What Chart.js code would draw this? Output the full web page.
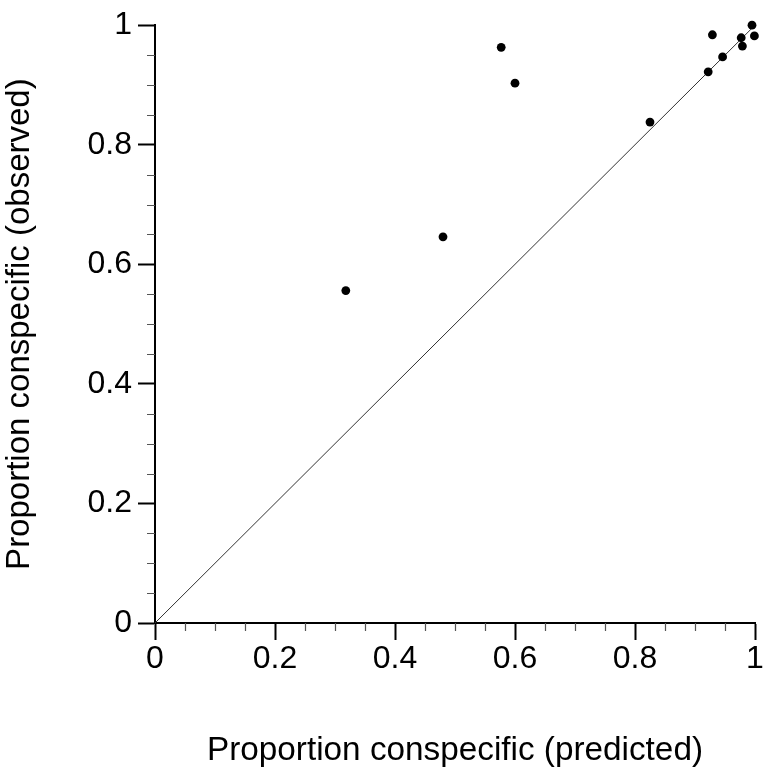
<!DOCTYPE html>
<html>
<head>
<meta charset="utf-8">
<script src="https://cdn.jsdelivr.net/npm/chart.js@4/dist/chart.umd.min.js"></script>
<style>
  html, body { margin: 0; padding: 0; background: #fff; }
  #wrap { width: 767px; height: 777px; }
</style>
</head>
<body>
<div id="wrap"><canvas id="grafico"></canvas></div>
<script>
// valores
const predicted = [0.318, 0.48, 0.577, 0.6, 0.825, 0.922, 0.929, 0.946, 0.977, 0.979, 0.995, 0.999];
const observed  = [0.556, 0.646, 0.963, 0.903, 0.838, 0.922, 0.984, 0.947, 0.979, 0.965, 1.0, 0.982];
const majorTicks = [0, 0.2, 0.4, 0.6, 0.8, 1];
const tickLabels = ['0', '0.2', '0.4', '0.6', '0.8', '1'];
const xTitle = 'Proportion conspecific (predicted)';
const yTitle = 'Proportion conspecific (observed)';

const FONT = '"Liberation Sans", Arial, Helvetica, sans-serif';

function isMajor(v) {
    return majorTicks.some(m => Math.abs(m - v) < 1e-6);
}
function labelFor(v) {
    const i = majorTicks.findIndex(m => Math.abs(m - v) < 1e-6);
    return i >= 0 ? tickLabels[i] : '';
}

// tracinhos menores (a cada 0.05)
const minorTicks = {
    id: 'minorTicks',
    afterDraw(chart) {
        const ctx = chart.ctx;
        const x = chart.scales.x, y = chart.scales.y;
        ctx.save();
        ctx.strokeStyle = '#555';
        ctx.lineWidth = 1.2;
        ctx.beginPath();
        x.ticks.forEach(t => {
            if (isMajor(t.value)) return;
            const px = Math.round(x.getPixelForValue(t.value)) + 0.5;
            ctx.moveTo(px, y.bottom);
            ctx.lineTo(px, y.bottom + 8);
        });
        y.ticks.forEach(t => {
            if (isMajor(t.value)) return;
            const py = Math.round(y.getPixelForValue(t.value)) + 0.5;
            ctx.moveTo(x.left, py);
            ctx.lineTo(x.left - 8, py);
        });
        ctx.stroke();
        ctx.restore();
    }
};

const ctx = document.getElementById('grafico');
const myChart = new Chart(ctx, {
    type: 'scatter',
    data: {
        datasets: [{
            type: 'line',
            data: [{x: 0, y: 0}, {x: 1, y: 1}],
            borderColor: '#333',
            borderWidth: 1,
            pointRadius: 0,
            order: 2
        }, {
            data: predicted.map((p, i) => ({x: p, y: observed[i]})),
            backgroundColor: '#000',
            borderWidth: 0,
            pointRadius: 4.4,
            clip: false,
            order: 1
        }]
    },
    options: {
        animation: false,
        responsive: true,
        maintainAspectRatio: false,
        layout: { padding: { top: 24, right: 12, left: 0, bottom: 0 } },
        plugins: {
            legend: { display: false },
            tooltip: { enabled: false }
        },
        scales: {
            x: {
                type: 'linear',
                min: 0,
                max: 1,
                afterFit: s => { s.height = 154; },
                ticks: {
                    stepSize: 0.05,
                    autoSkip: false,
                    maxRotation: 0,
                    padding: 0,
                    color: '#000',
                    font: { family: FONT, size: 32 },
                    callback: v => labelFor(v)
                },
                grid: {
                    drawOnChartArea: false,
                    tickLength: 17,
                    tickWidth: 2,
                    tickColor: c => isMajor(c.tick.value) ? '#000' : 'rgba(0,0,0,0)'
                },
                border: { display: true, color: '#000', width: 2 },
                title: {
                    display: true,
                    text: xTitle,
                    color: '#000',
                    font: { family: FONT, size: 33.3 },
                    padding: { top: 0, bottom: 6 }
                }
            },
            y: {
                type: 'linear',
                min: 0,
                max: 1,
                afterFit: s => { s.width = 155; },
                ticks: {
                    stepSize: 0.05,
                    autoSkip: false,
                    padding: 6,
                    color: '#000',
                    font: { family: FONT, size: 32 },
                    callback: v => labelFor(v)
                },
                grid: {
                    drawOnChartArea: false,
                    tickLength: 17,
                    tickWidth: 2,
                    tickColor: c => isMajor(c.tick.value) ? '#000' : 'rgba(0,0,0,0)'
                },
                border: { display: true, color: '#000', width: 2 },
                title: {
                    display: true,
                    text: yTitle,
                    color: '#000',
                    font: { family: FONT, size: 33 },
                    padding: { top: 0, bottom: 0 }
                }
            }
        }
    },
    plugins: [minorTicks]
});
</script>
</body>
</html>
